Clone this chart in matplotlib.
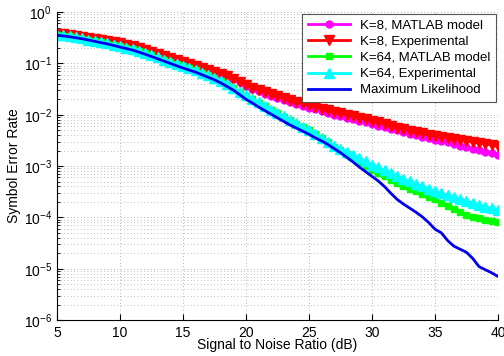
import numpy as np
import matplotlib
matplotlib.use("Agg")
import matplotlib.pyplot as plt
from matplotlib.ticker import LogLocator, NullFormatter

plt.rcParams['font.family'] = ['Liberation Sans', 'DejaVu Sans']
plt.rcParams['mathtext.fontset'] = 'custom'
plt.rcParams['mathtext.rm'] = 'Liberation Sans'

# SNR grid (dB)
snr_db = [5.0, 5.5, 6.0, 6.5, 7.0, 7.5, 8.0, 8.5, 9.0, 9.5,
          10.0, 10.5, 11.0, 11.5, 12.0, 12.5, 13.0, 13.5, 14.0, 14.5,
          15.0, 15.5, 16.0, 16.5, 17.0, 17.5, 18.0, 18.5, 19.0, 19.5,
          20.0, 20.5, 21.0, 21.5, 22.0, 22.5, 23.0, 23.5, 24.0, 24.5,
          25.0, 25.5, 26.0, 26.5, 27.0, 27.5, 28.0, 28.5, 29.0, 29.5,
          30.0, 30.5, 31.0, 31.5, 32.0, 32.5, 33.0, 33.5, 34.0, 34.5,
          35.0, 35.5, 36.0, 36.5, 37.0, 37.5, 38.0, 38.5, 39.0, 39.5, 40.0]

# log10 of symbol error rate
k8_model_log = [-0.43, -0.445, -0.46, -0.475, -0.49, -0.51, -0.53, -0.55, -0.57, -0.595,
                -0.62, -0.65, -0.68, -0.715, -0.75, -0.79, -0.83, -0.865, -0.90, -0.94,
                -0.98, -1.02, -1.06, -1.095, -1.13, -1.17, -1.21, -1.26, -1.30, -1.37,
                -1.44, -1.49, -1.54, -1.59, -1.64, -1.68, -1.72, -1.76, -1.80, -1.83,
                -1.86, -1.895, -1.93, -1.965, -2.00, -2.03, -2.06, -2.09, -2.12, -2.15,
                -2.18, -2.21, -2.24, -2.27, -2.30, -2.335, -2.37, -2.40, -2.43, -2.46,
                -2.49, -2.515, -2.54, -2.57, -2.60, -2.63, -2.66, -2.69, -2.72, -2.75, -2.78]

k8_exp_log = [-0.42, -0.435, -0.45, -0.465, -0.48, -0.50, -0.52, -0.54, -0.56, -0.585,
              -0.61, -0.64, -0.67, -0.705, -0.74, -0.78, -0.82, -0.855, -0.89, -0.93,
              -0.97, -1.01, -1.05, -1.085, -1.12, -1.16, -1.20, -1.25, -1.30, -1.36,
              -1.42, -1.47, -1.52, -1.56, -1.60, -1.64, -1.68, -1.715, -1.75, -1.78,
              -1.81, -1.845, -1.88, -1.91, -1.94, -1.97, -2.00, -2.03, -2.06, -2.09,
              -2.12, -2.15, -2.18, -2.215, -2.25, -2.28, -2.31, -2.335, -2.36, -2.385,
              -2.41, -2.43, -2.45, -2.47, -2.49, -2.51, -2.53, -2.55, -2.57, -2.59, -2.61]

k64_model_log = [-0.445, -0.46, -0.475, -0.495, -0.515, -0.54, -0.565, -0.59, -0.615, -0.64,
                 -0.665, -0.695, -0.725, -0.765, -0.805, -0.845, -0.885, -0.93, -0.975, -1.015,
                 -1.055, -1.095, -1.135, -1.185, -1.235, -1.285, -1.345, -1.415, -1.485, -1.555,
                 -1.625, -1.695, -1.765, -1.835, -1.905, -1.97, -2.035, -2.105, -2.175, -2.24,
                 -2.305, -2.38, -2.455, -2.535, -2.62, -2.69, -2.76, -2.84, -2.92, -3.00,
                 -3.07, -3.135, -3.20, -3.265, -3.33, -3.385, -3.44, -3.495, -3.55, -3.60,
                 -3.65, -3.715, -3.78, -3.84, -3.90, -3.95, -3.99, -4.02, -4.05, -4.07, -4.08]

k64_exp_log = [-0.44, -0.455, -0.47, -0.49, -0.51, -0.535, -0.56, -0.585, -0.61, -0.635,
               -0.66, -0.69, -0.72, -0.76, -0.80, -0.84, -0.88, -0.925, -0.97, -1.01,
               -1.05, -1.09, -1.13, -1.18, -1.23, -1.28, -1.34, -1.41, -1.48, -1.55,
               -1.62, -1.69, -1.76, -1.83, -1.90, -1.965, -2.03, -2.10, -2.17, -2.235,
               -2.30, -2.375, -2.45, -2.525, -2.60, -2.66, -2.72, -2.78, -2.84, -2.905,
               -2.97, -3.025, -3.08, -3.14, -3.20, -3.25, -3.30, -3.345, -3.39, -3.44,
               -3.49, -3.53, -3.57, -3.61, -3.65, -3.685, -3.72, -3.755, -3.79, -3.825, -3.86]

ml_log = [-0.45, -0.465, -0.48, -0.50, -0.52, -0.545, -0.57, -0.595, -0.62, -0.65,
          -0.68, -0.71, -0.74, -0.78, -0.82, -0.865, -0.91, -0.955, -1.00, -1.045,
          -1.09, -1.13, -1.17, -1.22, -1.27, -1.32, -1.38, -1.45, -1.52, -1.61,
          -1.70, -1.77, -1.85, -1.92, -1.99, -2.06, -2.13, -2.20, -2.26, -2.32,
          -2.38, -2.45, -2.51, -2.58, -2.66, -2.74, -2.83, -2.92, -3.02, -3.11,
          -3.20, -3.29, -3.40, -3.53, -3.65, -3.74, -3.82, -3.90, -3.99, -4.10,
          -4.23, -4.30, -4.45, -4.56, -4.62, -4.68, -4.80, -4.96, -5.02, -5.08, -5.15]

labels = ['K=8, MATLAB model', 'K=8, Experimental', 'K=64, MATLAB model',
          'K=64, Experimental', 'Maximum Likelihood']

x = np.array(snr_db)

fig = plt.figure(figsize=(5.04, 3.56), dpi=100)
ax = fig.add_axes([0.113, 0.101, 0.875, 0.865])

ax.semilogy(x, 10 ** np.array(k8_model_log), '-o', color='#ff00ff', lw=2, ms=5, label=labels[0])
ax.semilogy(x, 10 ** np.array(k8_exp_log), '-v', color='#ff0000', lw=2, ms=6.5, label=labels[1])
ax.semilogy(x, 10 ** np.array(k64_model_log), '-s', color='#00ff00', lw=2, ms=4.5, label=labels[2])
ax.semilogy(x, 10 ** np.array(k64_exp_log), '-^', color='#00ffff', lw=2, ms=6.5, label=labels[3])
ax.semilogy(x, 10 ** np.array(ml_log), '-', color='#0000ee', lw=2, label=labels[4])

ax.set_xlim(5, 40)
ax.set_ylim(1e-6, 1)
ax.set_xticks([5, 10, 15, 20, 25, 30, 35, 40])
ax.yaxis.set_major_locator(LogLocator(base=10, numticks=10))
ax.yaxis.set_minor_locator(LogLocator(base=10, subs=np.arange(2, 10), numticks=20))
ax.yaxis.set_minor_formatter(NullFormatter())

ax.grid(True, which='major', linestyle=(0, (1, 3)), color='#999999', lw=0.6)
ax.grid(True, which='minor', axis='y', linestyle=(0, (1, 3)), color='#aaaaaa', lw=0.6)

ax.spines['top'].set_visible(False)
ax.spines['right'].set_visible(False)
ax.tick_params(which='both', direction='in', labelsize=10)
ax.tick_params(which='major', length=4)
ax.tick_params(which='minor', length=2)
ax.tick_params(axis='x', pad=4)

ax.set_xlabel('Signal to Noise Ratio (dB)', fontsize=10, labelpad=-1)
ax.set_ylabel('Symbol Error Rate', fontsize=10, labelpad=2)

leg = ax.legend(loc='upper right', fontsize=9.5, fancybox=False, framealpha=1,
                edgecolor='#555555', handlelength=3.2, borderaxespad=0.15,
                labelspacing=0.3, borderpad=0.4)
leg.get_frame().set_linewidth(0.8)

fig.savefig('out.png', dpi=100)
